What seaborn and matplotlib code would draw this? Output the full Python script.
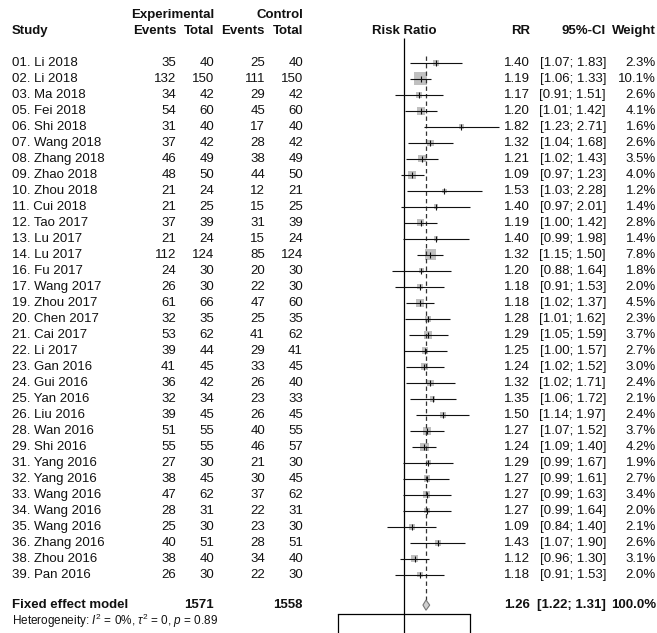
import numpy as np
import pandas as pd
import matplotlib
matplotlib.use("Agg")
import matplotlib.pyplot as plt
import matplotlib.transforms as mtransforms
from matplotlib.ticker import NullLocator
import seaborn as sns

studies = ["01. Li 2018", "02. Li 2018", "03. Ma 2018", "05. Fei 2018", "06. Shi 2018",
           "07. Wang 2018", "08. Zhang 2018", "09. Zhao 2018", "10. Zhou 2018", "11. Cui 2018",
           "12. Tao 2017", "13. Lu 2017", "14. Lu 2017", "16. Fu 2017", "17. Wang 2017",
           "19. Zhou 2017", "20. Chen 2017", "21. Cai 2017", "22. Li 2017", "23. Gan 2016",
           "24. Gui 2016", "25. Yan 2016", "26. Liu 2016", "28. Wan 2016", "29. Shi 2016",
           "31. Yang 2016", "32. Yang 2016", "33. Wang 2016", "34. Wang 2016", "35. Wang 2016",
           "36. Zhang 2016", "38. Zhou 2016", "39. Pan 2016"]
exp_events = [35, 132, 34, 54, 31, 37, 46, 48, 21, 21, 37, 21, 112, 24, 26, 61, 32, 53, 39, 41,
              36, 32, 39, 51, 55, 27, 38, 47, 28, 25, 40, 38, 26]
exp_total = [40, 150, 42, 60, 40, 42, 49, 50, 24, 25, 39, 24, 124, 30, 30, 66, 35, 62, 44, 45,
             42, 34, 45, 55, 55, 30, 45, 62, 31, 30, 51, 40, 30]
ctrl_events = [25, 111, 29, 45, 17, 28, 38, 44, 12, 15, 31, 15, 85, 20, 22, 47, 25, 41, 29, 33,
               26, 23, 26, 40, 46, 21, 30, 37, 22, 23, 28, 34, 22]
ctrl_total = [40, 150, 42, 60, 40, 42, 49, 50, 21, 25, 39, 24, 124, 30, 30, 60, 35, 62, 41, 45,
              40, 33, 45, 55, 57, 30, 45, 62, 31, 30, 51, 40, 30]
rr = [1.40, 1.19, 1.17, 1.20, 1.82, 1.32, 1.21, 1.09, 1.53, 1.40, 1.19, 1.40, 1.32, 1.20, 1.18,
      1.18, 1.28, 1.29, 1.25, 1.24, 1.32, 1.35, 1.50, 1.27, 1.24, 1.29, 1.27, 1.27, 1.27, 1.09,
      1.43, 1.12, 1.18]
ci_lo = [1.07, 1.06, 0.91, 1.01, 1.23, 1.04, 1.02, 0.97, 1.03, 0.97, 1.00, 0.99, 1.15, 0.88, 0.91,
         1.02, 1.01, 1.05, 1.00, 1.02, 1.02, 1.06, 1.14, 1.07, 1.09, 0.99, 0.99, 0.99, 0.99, 0.84,
         1.07, 0.96, 0.91]
ci_hi = [1.83, 1.33, 1.51, 1.42, 2.71, 1.68, 1.43, 1.23, 2.28, 2.01, 1.42, 1.98, 1.50, 1.64, 1.53,
         1.37, 1.62, 1.59, 1.57, 1.52, 1.71, 1.72, 1.97, 1.52, 1.40, 1.67, 1.61, 1.63, 1.64, 1.40,
         1.90, 1.30, 1.53]
weight = [2.3, 10.1, 2.6, 4.1, 1.6, 2.6, 3.5, 4.0, 1.2, 1.4, 2.8, 1.4, 7.8, 1.8, 2.0, 4.5, 2.3,
          3.7, 2.7, 3.0, 2.4, 2.1, 2.4, 3.7, 4.2, 1.9, 2.7, 3.4, 2.0, 2.1, 2.6, 3.1, 2.0]

pooled_rr, pooled_lo, pooled_hi = 1.26, 1.22, 1.31
axis_ticks = [0.5, 1, 2]

df = pd.DataFrame({"study": studies, "e_ev": exp_events, "e_n": exp_total,
                   "c_ev": ctrl_events, "c_n": ctrl_total, "rr": rr,
                   "lo": ci_lo, "hi": ci_hi, "weight": weight})
df["row"] = np.arange(len(df))
pooled_row = len(df) + 0.9
het_row = len(df) + 1.9

sns.set_theme(style="white")
plt.rcParams["font.family"] = ["Liberation Sans", "DejaVu Sans"]
plt.rcParams["mathtext.fontset"] = "custom"
plt.rcParams["mathtext.rm"] = "Liberation Sans"
plt.rcParams["mathtext.it"] = "Liberation Sans:italic"

W, H = 657, 633
fig = plt.figure(figsize=(W / 100, H / 100), dpi=100)
ax = fig.add_axes([338 / W, 0, 132 / W, 1])
ax.patch.set_visible(False)
ax.set_xscale("log")
ax.set_xlim(0.5, 2)
ax.set_ylim((H - 62.7) / 16, -62.7 / 16)

# confidence intervals, weight squares, point ticks
ax.hlines(df["row"], df["lo"], df["hi"], color="#111111", lw=0.8, clip_on=False, zorder=3)
sns.scatterplot(data=df, x="rr", y="row", size="weight", sizes=(0, 82), size_norm=(0, 10.1),
                marker="s", color="#c0c0c0", edgecolor="none", linewidth=0, legend=False,
                ax=ax, zorder=2, clip_on=False)
ax.scatter(df["rr"], df["row"], marker="|", s=14, color="#111111", linewidths=0.8, zorder=4)

# reference lines
ax.vlines(1, -1.55, 34.45, color="black", lw=0.9)
ax.vlines(pooled_rr, -0.45, pooled_row - 0.35, color="#333333", lw=0.9,
          linestyles=(0, (3.5, 2.5)))

# pooled diamond
h = 0.32
ax.fill([pooled_lo, pooled_rr, pooled_hi, pooled_rr],
        [pooled_row, pooled_row - h, pooled_row, pooled_row + h],
        facecolor="#cfcfcf", edgecolor="#777777", lw=0.8, zorder=3)

# bottom axis (its labels fall below the picture edge)
for s in ["top", "left", "right"]:
    ax.spines[s].set_visible(False)
ax.spines["bottom"].set_position(("data", 34.45))
ax.spines["bottom"].set_bounds(0.5, 2)
ax.spines["bottom"].set_color("black")
ax.spines["bottom"].set_linewidth(0.9)
ax.set_xticks(axis_ticks)
ax.xaxis.set_minor_locator(NullLocator())
ax.tick_params(axis="x", direction="out", length=15, width=0.9, color="black", bottom=True,
               labelbottom=False)
ax.set_yticks([])
ax.set_xlabel("")
ax.set_ylabel("")

tr = mtransforms.blended_transform_factory(fig.transFigure, ax.transData)
fs = 9.5
tc = "#111111"

def put(px, row, s, ha="right", bold=False, size=fs):
    ax.text(px / W, row, s, transform=tr, ha=ha, va="center", fontsize=size,
            fontweight="bold" if bold else "normal", color=tc)

# headers
put(12, -2, "Study", ha="left", bold=True)
put(214, -3, "Experimental", bold=True)
put(303, -3, "Control", bold=True)
put(176, -2, "Events", bold=True)
put(214, -2, "Total", bold=True)
put(265, -2, "Events", bold=True)
put(303, -2, "Total", bold=True)
ax.text(1, -2, "Risk Ratio", ha="center", va="center", fontsize=fs, fontweight="bold", color=tc)
put(530, -2, "RR", bold=True)
put(606, -2, "95%-CI", bold=True)
put(656, -2, "Weight", bold=True)

# study rows
for _, r in df.iterrows():
    put(12, r["row"], r["study"], ha="left")
    put(176, r["row"], f"{r['e_ev']}")
    put(214, r["row"], f"{r['e_n']}")
    put(265, r["row"], f"{r['c_ev']}")
    put(303, r["row"], f"{r['c_n']}")
    put(530, r["row"], f"{r['rr']:.2f}")
    put(606, r["row"], f"[{r['lo']:.2f}; {r['hi']:.2f}]")
    put(656, r["row"], f"{r['weight']:.1f}%")

# pooled row
put(12, pooled_row, "Fixed effect model", ha="left", bold=True)
put(214, pooled_row, f"{sum(exp_total)}", bold=True)
put(303, pooled_row, f"{sum(ctrl_total)}", bold=True)
put(530, pooled_row, f"{pooled_rr:.2f}", bold=True)
put(606, pooled_row, f"[{pooled_lo:.2f}; {pooled_hi:.2f}]", bold=True)
put(656, pooled_row, "100.0%", bold=True)
put(12, het_row, r"Heterogeneity: $I^2$ = 0%, $\tau^2$ = 0, $p$ = 0.89", ha="left", size=8.5)

fig.savefig("out.png", dpi=100)
